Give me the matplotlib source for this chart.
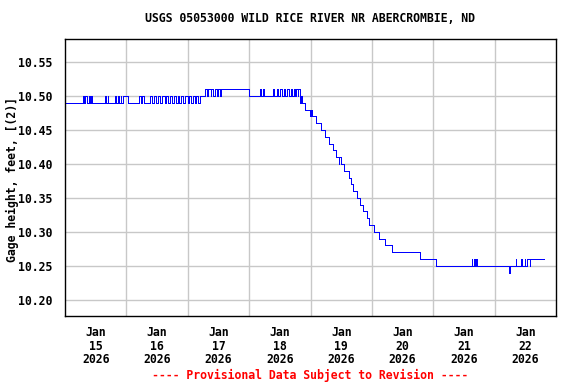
import matplotlib
matplotlib.use("Agg")
import matplotlib.pyplot as plt
from matplotlib.ticker import FixedLocator, NullFormatter

# ---- data: step-change points (hours since Jan 15 00:00, gage height ft) ----
change_hours = [
    0.0, 7.0, 7.25, 8.0, 8.75, 9.5, 9.75, 10.25, 10.75,
    15.75, 16.0, 16.75, 17.0,
    19.5, 19.75, 20.75, 21.0, 21.75, 22.0, 22.5, 24.5,
    29.0, 29.75, 30.0, 31.0,
    33.25, 34.0, 34.75, 35.5, 36.5, 37.25, 38.0, 39.0, 39.5, 40.25,
    41.0, 42.0, 42.5, 43.5, 44.0, 44.75, 45.5, 46.25, 47.0, 48.0,
    48.5, 49.25, 50.0, 50.75, 51.25, 52.0, 52.75,
    54.75, 55.5, 56.0, 57.0, 57.25, 58.0, 58.5, 59.25, 60.0, 60.75, 61.0,
    72.0,
    76.25, 76.75, 77.5, 78.0,
    81.25, 81.75, 82.75, 83.25, 84.25, 84.75, 85.5, 86.0, 86.75, 87.5,
    88.25, 88.75, 89.5, 90.0, 90.5, 91.0, 91.25, 91.75,
    92.0, 92.25, 92.5, 94.0, 95.75, 96.0, 96.5, 98.0, 100.0, 101.75,
    103.25, 104.75, 106.0, 107.0, 107.25, 107.75, 109.0, 111.0, 112.0,
    112.5, 114.25, 115.25, 116.5, 118.0, 119.0, 120.75, 122.75, 125.0,
    127.75, 139.0, 145.25,
    159.0, 159.25, 160.0, 160.5, 160.75, 161.0,
    173.75, 174.0, 176.25, 176.5,
    178.5, 178.75, 179.75, 180.0, 180.75, 181.75, 182.0, 182.5,
]
change_values = [
    10.49, 10.50, 10.49, 10.50, 10.49, 10.50, 10.49, 10.50, 10.49,
    10.50, 10.49, 10.50, 10.49,
    10.50, 10.49, 10.50, 10.49, 10.50, 10.49, 10.50, 10.49,
    10.50, 10.49, 10.50, 10.49,
    10.50, 10.49, 10.50, 10.49, 10.50, 10.49, 10.50, 10.49, 10.50, 10.49,
    10.50, 10.49, 10.50, 10.49, 10.50, 10.49, 10.50, 10.49, 10.50, 10.49,
    10.50, 10.49, 10.50, 10.49, 10.50, 10.49, 10.50,
    10.51, 10.50, 10.51, 10.50, 10.51, 10.50, 10.51, 10.50, 10.51, 10.50, 10.51,
    10.50,
    10.51, 10.50, 10.51, 10.50,
    10.51, 10.50, 10.51, 10.50, 10.51, 10.50, 10.51, 10.50, 10.51, 10.50,
    10.51, 10.50, 10.51, 10.50, 10.51, 10.50, 10.51, 10.50,
    10.49, 10.50, 10.49, 10.48, 10.47, 10.48, 10.47, 10.46, 10.45, 10.44,
    10.43, 10.42, 10.41, 10.40, 10.41, 10.40, 10.39, 10.38, 10.37,
    10.36, 10.35, 10.34, 10.33, 10.32, 10.31, 10.30, 10.29, 10.28,
    10.27, 10.26, 10.25,
    10.26, 10.25, 10.26, 10.25, 10.26, 10.25,
    10.24, 10.25, 10.26, 10.25,
    10.26, 10.25, 10.26, 10.25, 10.26, 10.25, 10.26, 10.26,
]
last_hour = 187.25

day_labels = ["Jan\n15\n2026", "Jan\n16\n2026", "Jan\n17\n2026", "Jan\n18\n2026",
              "Jan\n19\n2026", "Jan\n20\n2026", "Jan\n21\n2026", "Jan\n22\n2026"]
y_ticks = [10.20, 10.25, 10.30, 10.35, 10.40, 10.45, 10.50, 10.55]

title = "USGS 05053000 WILD RICE RIVER NR ABERCROMBIE, ND"
ylabel = "Gage height, feet, [(2)]"
footer = "---- Provisional Data Subject to Revision ----"

# ---- figure ----
FONT = "DejaVu Sans Mono"
fs = 8.3
fig = plt.figure(figsize=(5.76, 3.84), dpi=100)
ax = fig.add_axes([65/576, 1 - 316/384, (556-65)/576, (316-39)/384])

xs = change_hours + [last_hour]
ys = change_values + [change_values[-1]]
ax.plot(xs, ys, drawstyle="steps-post", color="#0000ff", linewidth=0.6,
        antialiased=False)

ax.set_xlim(0, 192)
ax.set_ylim(10.176, 10.584)

ax.xaxis.set_major_locator(FixedLocator([24 * i for i in range(1, 8)]))
ax.xaxis.set_major_formatter(NullFormatter())
ax.xaxis.set_minor_locator(FixedLocator([12 + 24 * i for i in range(8)]))
ax.set_xticklabels(day_labels, minor=True, fontfamily=FONT, fontweight="bold",
                   fontsize=fs, linespacing=1.08)
ax.tick_params(axis="x", which="both", length=0, pad=7)

ax.set_yticks(y_ticks)
ax.set_yticklabels([f"{v:.2f}" for v in y_ticks], fontfamily=FONT,
                   fontweight="bold", fontsize=fs)
ax.tick_params(axis="y", length=0, pad=9)

ax.grid(True, which="major", color="#c8c8c8", linewidth=1)
ax.set_axisbelow(True)
for s in ax.spines.values():
    s.set_color("black")
    s.set_linewidth(1)

fig.text(310/576, 1 - 19/384, title, ha="center", va="center",
         fontfamily=FONT, fontweight="bold", fontsize=fs)
fig.text(12/576, 1 - 180/384, ylabel, ha="center", va="center", rotation=90,
         fontfamily=FONT, fontweight="bold", fontsize=fs)
fig.text(310/576, 1 - 375/384, footer, ha="center", va="center", color="red",
         fontfamily=FONT, fontweight="bold", fontsize=fs)

fig.savefig("out.png", dpi=100)
